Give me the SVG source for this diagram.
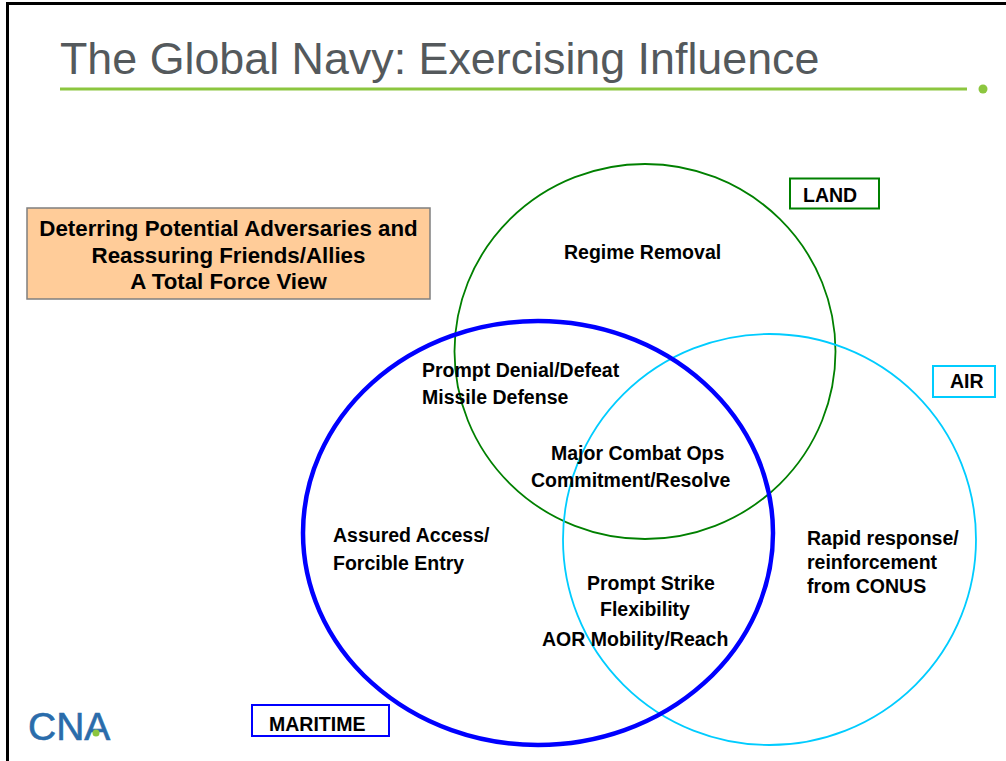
<svg xmlns="http://www.w3.org/2000/svg" width="1006" height="761" viewBox="0 0 1006 761">
<style>
.t{font-family:"Liberation Sans",Arial,sans-serif;font-weight:bold;font-size:19.5px;fill:#000}
.box{font-family:"Liberation Sans",Arial,sans-serif;font-weight:bold;font-size:22.3px;fill:#000}
.lbl{fill:#fff;stroke-width:2}
</style>
<rect width="1006" height="761" fill="#fff"/>
<g id="frame">
<path d="M7.5 761 V3.5 H1006" fill="none" stroke="#000" stroke-width="3"/>
</g>
<g id="title">
<text x="60" y="74" font-family="Liberation Sans,Arial,sans-serif" font-size="44.8" fill="#54595c">The Global Navy: Exercising Influence</text>
<line x1="60" y1="89" x2="967" y2="89" stroke="#8cc63f" stroke-width="3"/>
<circle cx="983" cy="89" r="4.5" fill="#8cc63f"/>
</g>
<g id="note">
<rect x="27" y="208" width="403" height="91" fill="#ffcc99" stroke="#7f7f7f" stroke-width="1.5"/>
<text class="box" text-anchor="middle" x="228.5" y="236">Deterring Potential Adversaries and</text>
<text class="box" text-anchor="middle" x="228.5" y="263">Reassuring Friends/Allies</text>
<text class="box" text-anchor="middle" x="228.5" y="289">A Total Force View</text>
</g>
<g id="land">
<ellipse cx="645" cy="351.5" rx="190.5" ry="187.5" fill="none" stroke="#008000" stroke-width="1.8"/>
<rect class="lbl" x="790" y="178.5" width="89" height="30" stroke="#008000"/>
<text class="t" x="803" y="202">LAND</text>
</g>
<g id="air">
<ellipse cx="769.5" cy="539.5" rx="206.5" ry="205.5" fill="none" stroke="#00ccff" stroke-width="1.8"/>
<rect class="lbl" x="933" y="366" width="62" height="31" stroke="#00ccff"/>
<text class="t" x="950" y="388">AIR</text>
</g>
<g id="maritime">
<ellipse cx="538" cy="533" rx="235" ry="212" fill="none" stroke="#0000ff" stroke-width="4.5"/>
<rect class="lbl" x="252" y="705" width="137" height="31" stroke="#0000ff"/>
<text class="t" x="269" y="731">MARITIME</text>
</g>
<g id="connectors"></g>
<g id="region-land">
<text class="t" x="564" y="259">Regime Removal</text>
</g>
<g id="region-land-maritime">
<text class="t" x="422" y="377">Prompt Denial/Defeat</text>
<text class="t" x="422" y="404">Missile Defense</text>
</g>
<g id="region-all">
<text class="t" x="551" y="460">Major Combat Ops</text>
<text class="t" x="531" y="487">Commitment/Resolve</text>
</g>
<g id="region-maritime">
<text class="t" x="333" y="542">Assured Access/</text>
<text class="t" x="333" y="570">Forcible Entry</text>
</g>
<g id="region-maritime-air">
<text class="t" x="587" y="590">Prompt Strike</text>
<text class="t" x="600" y="616">Flexibility</text>
<text class="t" x="542" y="646">AOR Mobility/Reach</text>
</g>
<g id="region-air">
<text class="t" x="807" y="545">Rapid response/</text>
<text class="t" x="807" y="569">reinforcement</text>
<text class="t" x="807" y="593">from CONUS</text>
</g>
<g id="logo">
<text x="28" y="740" font-family="Liberation Sans,Arial,sans-serif" font-size="39" fill="#2a6cab" stroke="#2a6cab" stroke-width="0.6">CNA</text>
<circle cx="96" cy="733" r="3.5" fill="#8cc63f"/>
</g>
</svg>
